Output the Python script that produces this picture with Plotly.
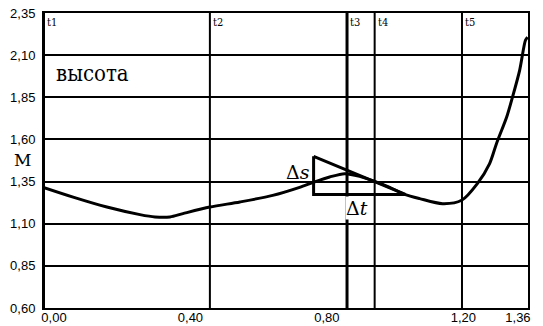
import plotly.graph_objects as go

# curve (time, height)
curve_x = [-0.029, 0.056, 0.155, 0.252, 0.296, 0.340, 0.378, 0.457, 0.545, 0.641,
           0.720, 0.761, 0.808, 0.852, 0.896, 0.940, 0.984, 1.028, 1.072, 1.139,
           1.195, 1.241, 1.277, 1.297, 1.327, 1.344, 1.365, 1.382, 1.388]
curve_y = [1.314, 1.258, 1.199, 1.154, 1.140, 1.140, 1.160, 1.199, 1.229, 1.268,
           1.316, 1.346, 1.377, 1.397, 1.381, 1.351, 1.316, 1.274, 1.249, 1.219,
           1.239, 1.338, 1.457, 1.575, 1.733, 1.851, 2.010, 2.188, 2.207]

# triangle (Δs / Δt)
tri_x = [0.761, 0.761, 1.030, 0.761]
tri_y = [1.500, 1.274, 1.274, 1.500]

# time marks
t_names = ["t1", "t2", "t3", "t4", "t5"]
t_vals = [-0.0293, 0.457, 0.859, 0.940, 1.196]
t_widths = [2, 2, 3, 2, 2]

x_ticks = [0.0, 0.40, 0.80, 1.20, 1.36]
y_tick0, y_dtick = 0.60, 0.25
x_range = [-0.0293, 1.3895]
y_range = [0.60, 2.35]

serif = "DejaVu Serif, Noto Serif, FreeSerif, Liberation Serif, Times New Roman, serif"
serif_c = "DejaVu Serif Condensed, DejaVu Serif, serif"
sans = "Liberation Sans, Arial, sans-serif"

fig = go.Figure()
fig.add_trace(go.Scatter(x=curve_x, y=curve_y, mode="lines",
                         line=dict(color="black", width=3, shape="spline", smoothing=0.8),
                         hoverinfo="skip"))
fig.add_trace(go.Scatter(x=tri_x, y=tri_y, mode="lines",
                         line=dict(color="black", width=3), hoverinfo="skip"))

for name, v, w in zip(t_names, t_vals, t_widths):
    fig.add_shape(type="line", xref="x", yref="paper", x0=v, x1=v, y0=0, y1=1,
                  line=dict(color="black", width=w), layer="below")
    fig.add_annotation(x=v, y=1, xref="x", yref="paper", text=name, showarrow=False,
                       xanchor="left", yanchor="top", xshift=1, yshift=-1,
                       font=dict(family=serif_c, size=11, color="black"))

fig.add_annotation(x=0.0, y=1.99, xref="x", yref="y", text="высота", showarrow=False,
                   xanchor="left", yanchor="middle",
                   font=dict(family=serif_c, size=22, color="black"))
fig.add_annotation(x=-0.045, y=1.476, xref="paper", yref="y", text="М", showarrow=False,
                   xanchor="center", yanchor="middle",
                   font=dict(family=serif, size=17, color="black"))
fig.add_annotation(x=0.757, y=1.405, xref="x", yref="y", text="Δ<i>s</i>", showarrow=False,
                   xanchor="right", yanchor="middle",
                   font=dict(family=serif, size=19, color="black"))
fig.add_annotation(x=0.852, y=1.191, xref="x", yref="y", text="Δ<i>t</i>", showarrow=False,
                   xanchor="left", yanchor="middle", bgcolor="white", borderpad=0,
                   font=dict(family=serif, size=19, color="black"))

fig.update_layout(
    width=543, height=326,
    margin=dict(l=44, r=15, t=13, b=18, autoexpand=False),
    plot_bgcolor="white", paper_bgcolor="white",
    showlegend=False,
    separators=", ",
    font=dict(family=sans, size=13, color="black"),
)
fig.update_xaxes(range=x_range, tickvals=x_ticks, tickformat=".2f", automargin=False,
                 showgrid=False, zeroline=False,
                 showline=True, linecolor="black", linewidth=2, mirror=True,
                 ticks="", ticklabelstandoff=-4)
fig.update_yaxes(range=y_range, tick0=y_tick0, dtick=y_dtick, tickmode="linear", tickformat=".2f",
                 automargin=False,
                 showgrid=True, gridcolor="black", gridwidth=2, zeroline=False,
                 showline=True, linecolor="black", linewidth=2, mirror=True,
                 ticks="", ticklabelstandoff=4)

fig.write_html("out.html")
